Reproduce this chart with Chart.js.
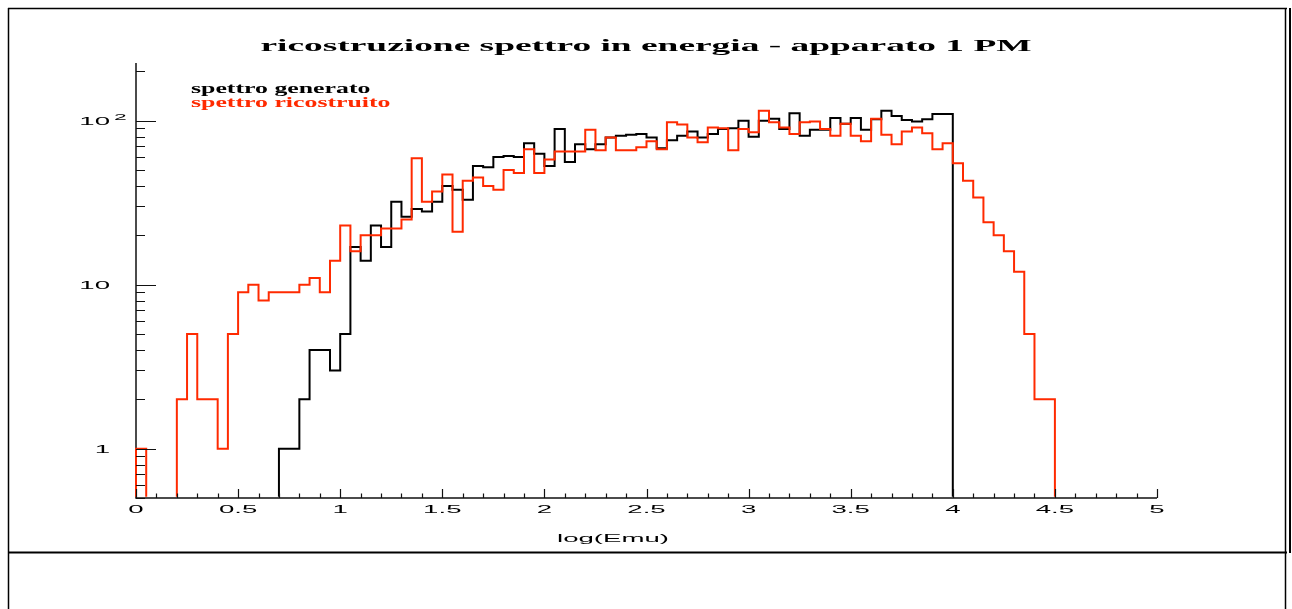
<!DOCTYPE html>
<html>
<head>
<meta charset="utf-8">
<title>ricostruzione spettro in energia - apparato 1 PM</title>
<script src="https://cdn.jsdelivr.net/npm/chart.js@4/dist/chart.umd.min.js"></script>
<style>
  html, body { margin: 0; padding: 0; background: #fff; overflow: hidden; }
  canvas { display: block; }
</style>
</head>
<body>
<canvas id="spettro" width="1292" height="609"></canvas>
<script>
// Histogram: 100 bins of width 0.05 in log(Emu), from 0 to 5
const TITLE = 'ricostruzione spettro in energia - apparato 1 PM';
const X_TITLE = 'log(Emu)';
const BIN_START = 0;
const BIN_WIDTH = 0.05;
const X_MIN = 0, X_MAX = 5;
const Y_MIN = 0.5, Y_MAX = 225;

const X_TICKS = [0, 0.5, 1, 1.5, 2, 2.5, 3, 3.5, 4, 4.5, 5];
const X_TICK_LABELS = ['0', '0.5', '1', '1.5', '2', '2.5', '3', '3.5', '4', '4.5', '5'];
const Y_TICKS = [1, 10, 100];
const Y_TICK_LABELS = ['1', '10', '10'];
const Y_TICK_EXPONENTS = ['', '', '2'];

const SERIES_NAMES = ['spettro generato', 'spettro ricostruito'];
const SERIES_COLORS = ['#000000', '#ff2a00'];

// spettro generato (counts per bin)
const GENERATED = [
  0, 0, 0, 0, 0, 0, 0, 0, 0, 0,
  0, 0, 0, 0, 1, 1, 2, 4, 4, 3,
  5, 17, 14, 23, 17, 32, 26, 29, 28, 32,
  40, 38, 33, 53, 52, 60, 61, 60, 73, 63,
  53, 89, 56, 72, 67, 72, 79, 81, 82, 83,
  79, 68, 76, 81, 86, 79, 83, 89, 90, 100,
  80, 100, 103, 89, 111, 81, 88, 88, 104, 96,
  104, 88, 102, 115, 107, 101, 99, 102, 110, 110,
  0, 0, 0, 0, 0, 0, 0, 0, 0, 0,
  0, 0, 0, 0, 0, 0, 0, 0, 0, 0
];

// spettro ricostruito (counts per bin)
const RECONSTRUCTED = [
  1, 0, 0, 0, 2, 5, 2, 2, 1, 5,
  9, 10, 8, 9, 9, 9, 10, 11, 9, 14,
  23, 16, 20, 20, 22, 22, 25, 59, 32, 37,
  47, 21, 43, 45, 40, 38, 50, 48, 67, 48,
  58, 65, 65, 65, 88, 66, 79, 66, 66, 69,
  75, 67, 98, 95, 79, 74, 91, 90, 66, 89,
  85, 115, 98, 91, 83, 98, 99, 89, 81, 96,
  81, 75, 103, 82, 72, 86, 91, 84, 67, 73,
  55, 43, 34, 24, 20, 16, 12, 5, 2, 2,
  0, 0, 0, 0, 0, 0, 0, 0, 0, 0
];

// Step outline of a histogram: rise at the first edge, one point per bin
// (held until the next edge), drop at the last edge. Empty bins sit on the
// bottom of the log axis.
function histogramPoints(counts) {
  const pts = [{ x: BIN_START, y: Y_MIN }];
  counts.forEach((c, i) => {
    pts.push({ x: BIN_START + i * BIN_WIDTH, y: c > 0 ? c : Y_MIN });
  });
  pts.push({ x: BIN_START + counts.length * BIN_WIDTH, y: Y_MIN });
  return pts;
}

const LABEL_FONT = '11.5px "Liberation Sans", Arial, sans-serif';
const LABEL_STRETCH = 2.4;

function stretchedText(ctx, text, x, y, font, stretch, align, color) {
  ctx.save();
  ctx.font = font;
  ctx.fillStyle = color;
  ctx.textAlign = 'left';
  ctx.textBaseline = 'alphabetic';
  const w = ctx.measureText(text).width * stretch;
  let left = x;
  if (align === 'center') left = x - w / 2;
  else if (align === 'right') left = x - w;
  ctx.translate(left, y);
  ctx.scale(stretch, 1);
  ctx.fillText(text, 0, 0);
  ctx.restore();
  return w;
}

const framePlugin = {
  id: 'framePlugin',
  beforeDraw(chart) {
    const ctx = chart.ctx;
    ctx.save();
    ctx.fillStyle = '#fff';
    ctx.fillRect(0, 0, chart.width, chart.height);
    ctx.strokeStyle = '#000';
    // pad borders
    ctx.lineWidth = 1.5;
    ctx.beginPath();
    ctx.moveTo(8, 8.5); ctx.lineTo(1287, 8.5);
    ctx.moveTo(8.5, 8); ctx.lineTo(8.5, chart.height);
    ctx.moveTo(1285.5, 8); ctx.lineTo(1285.5, chart.height);
    ctx.stroke();
    ctx.lineWidth = 2;
    ctx.beginPath();
    ctx.moveTo(8, 552.5); ctx.lineTo(1287, 552.5);
    ctx.moveTo(1290, 8); ctx.lineTo(1290, 553);
    ctx.stroke();
    ctx.restore();
  },
  beforeDatasetsDraw(chart) {
    const ctx = chart.ctx;
    const a = chart.chartArea;
    ctx.save();
    ctx.strokeStyle = '#111';
    ctx.lineWidth = 1.5;
    ctx.beginPath();
    ctx.moveTo(a.left, a.top);
    ctx.lineTo(a.left, a.bottom);
    ctx.lineTo(a.right, a.bottom);
    ctx.stroke();
    ctx.restore();
  },
  afterDatasetsDraw(chart) {
    const ctx = chart.ctx;
    const a = chart.chartArea;
    const xs = chart.scales.x;
    const ys = chart.scales.y;
    ctx.save();
    ctx.strokeStyle = '#111';
    ctx.lineWidth = 1.2;

    // x ticks every 0.1, longer at multiples of 0.5
    ctx.beginPath();
    for (let k = 0; k <= 50; k++) {
      const v = k / 10;
      const px = Math.round(xs.getPixelForValue(v)) + 0.5;
      const len = (k % 5 === 0) ? 9 : 4.5;
      ctx.moveTo(px, a.bottom);
      ctx.lineTo(px, a.bottom - len);
    }
    ctx.stroke();

    // y ticks: decades long, 2..9 short
    ctx.beginPath();
    for (let e = -1; e <= 2; e++) {
      for (let m = 1; m <= 9; m++) {
        const v = m * Math.pow(10, e);
        if (v < Y_MIN || v > Y_MAX) continue;
        const py = Math.round(ys.getPixelForValue(v)) + 0.5;
        const len = (m === 1) ? 20 : 9;
        ctx.moveTo(a.left, py);
        ctx.lineTo(a.left + len, py);
      }
    }
    ctx.stroke();
    ctx.restore();

    // tick labels
    X_TICKS.forEach((v, i) => {
      stretchedText(ctx, X_TICK_LABELS[i], xs.getPixelForValue(v), a.bottom + 15,
        LABEL_FONT, LABEL_STRETCH, 'center', '#000');
    });
    Y_TICKS.forEach((v, i) => {
      const py = ys.getPixelForValue(v);
      stretchedText(ctx, Y_TICK_LABELS[i], a.left - 26, py + 4,
        LABEL_FONT, LABEL_STRETCH, 'right', '#000');
      if (Y_TICK_EXPONENTS[i]) {
        stretchedText(ctx, Y_TICK_EXPONENTS[i], a.left - 22, py - 1,
          '9.5px "Liberation Sans", Arial, sans-serif', LABEL_STRETCH, 'left', '#000');
      }
    });

    // axis title
    stretchedText(ctx, X_TITLE, 613, 542, LABEL_FONT, LABEL_STRETCH, 'center', '#000');

    // title
    stretchedText(ctx, TITLE, 646, 51, 'bold 17px "Liberation Serif", "Times New Roman", serif',
      2.2, 'center', '#000');

    // legend
    chart.data.datasets.forEach((ds, i) => {
      stretchedText(ctx, ds.label, 191, 93 + i * 14,
        'bold 14.5px "Liberation Serif", "Times New Roman", serif', 1.78, 'left', ds.borderColor);
    });
  }
};

const lineStyle = {
  stepped: 'before',
  tension: 0,
  fill: false,
  pointRadius: 0,
  pointHoverRadius: 0,
  borderWidth: 2,
  clip: { left: 2, top: 2, right: 2, bottom: -1.2 }
};

new Chart(document.getElementById('spettro'), {
  type: 'line',
  data: {
    datasets: [
      Object.assign({
        label: SERIES_NAMES[0],
        data: histogramPoints(GENERATED),
        borderColor: SERIES_COLORS[0],
        order: 1
      }, lineStyle),
      Object.assign({
        label: SERIES_NAMES[1],
        data: histogramPoints(RECONSTRUCTED),
        borderColor: SERIES_COLORS[1],
        order: 0
      }, lineStyle)
    ]
  },
  options: {
    responsive: false,
    animation: false,
    devicePixelRatio: 1,
    layout: { padding: { left: 136, top: 63, right: 135, bottom: 111 } },
    plugins: {
      legend: { display: false },
      title: { display: false },
      tooltip: { enabled: false }
    },
    events: [],
    scales: {
      x: { type: 'linear', min: X_MIN, max: X_MAX, display: false },
      y: { type: 'logarithmic', min: Y_MIN, max: Y_MAX, display: false }
    }
  },
  plugins: [framePlugin]
});
</script>
</body>
</html>
